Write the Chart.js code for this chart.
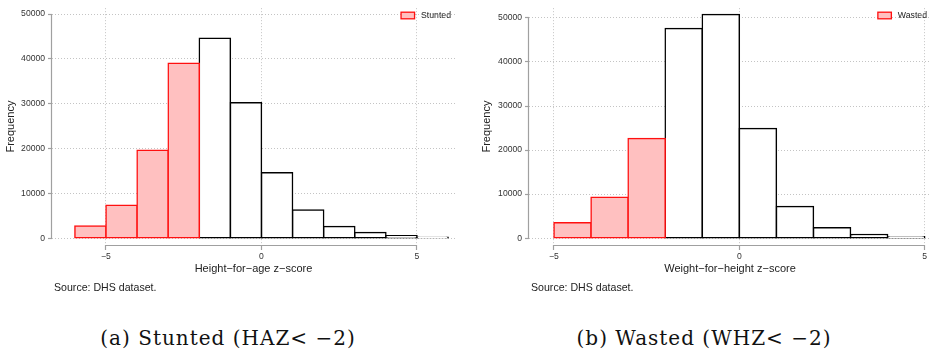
<!DOCTYPE html>
<html>
<head>
<meta charset="utf-8">
<script src="https://cdn.jsdelivr.net/npm/chart.js@4.4.0/dist/chart.umd.min.js"></script>
<style>
  body { margin: 0; background: #fff; width: 936px; height: 355px; overflow: hidden; position: relative; }
  canvas { position: absolute; top: 0; }
  .cap { position: absolute; top: 326px; font-family: "DejaVu Serif", serif; font-size: 20px;
         letter-spacing: 1px; color: #111; white-space: nowrap; transform: translateX(-50%); }
</style>
</head>
<body>
<canvas id="haz" width="466" height="300" style="left:0"></canvas>
<canvas id="whz" width="470" height="300" style="left:466px"></canvas>
<div class="cap" style="left:228px">(a) Stunted (HAZ&lt; −2)</div>
<div class="cap" style="left:704px">(b) Wasted (WHZ&lt; −2)</div>
<script>
// bin left edges (width 1) and frequencies
const hazBins = [-6, -5, -4, -3, -2, -1, 0, 1, 2, 3, 4, 5];
const hazCounts = [2700, 7350, 19600, 39000, 44600, 30200, 14600, 6260, 2620, 1240, 510, 220];
const whzBins = [-5, -4, -3, -2, -1, 0, 1, 2, 3, 4];
const whzCounts = [3480, 9260, 22600, 47600, 50800, 24900, 7190, 2370, 810, 300];
const cutoff = -2;
const xTicks = [-5, 0, 5];
const yTicks = [0, 10000, 20000, 30000, 40000, 50000];

const FONT = '"Liberation Sans", Arial, sans-serif';

// gray axis lines that only span the labelled range, like Stata
const axisLines = {
  id: 'axisLines',
  afterDatasetsDraw(chart) {
    const {ctx, chartArea, scales: {x, y}} = chart;
    ctx.save();
    ctx.strokeStyle = '#a0a0a0';
    ctx.lineWidth = 1.2;
    ctx.beginPath();
    ctx.moveTo(x.getPixelForValue(xTicks[0]), chartArea.bottom + 0.5);
    ctx.lineTo(x.getPixelForValue(xTicks[xTicks.length - 1]), chartArea.bottom + 0.5);
    ctx.moveTo(chartArea.left - 0.5, y.getPixelForValue(yTicks[0]));
    ctx.lineTo(chartArea.left - 0.5, y.getPixelForValue(yTicks[yTicks.length - 1]));
    ctx.stroke();
    ctx.restore();
  }
};

// legend inside the plot, top right, only the highlighted series
const innerLegend = {
  id: 'innerLegend',
  afterDraw(chart) {
    const {ctx, chartArea} = chart;
    const ds = chart.data.datasets[0];
    ctx.save();
    ctx.font = '8.7px ' + FONT;
    const tw = ctx.measureText(ds.label).width;
    const tx = chartArea.right - 4 - tw;
    const cy = 15.5;
    ctx.fillStyle = ds.backgroundColor;
    ctx.strokeStyle = ds.borderColor;
    ctx.lineWidth = 1.3;
    ctx.fillRect(tx - 20, cy - 3.3, 13.5, 6.6);
    ctx.strokeRect(tx - 20, cy - 3.3, 13.5, 6.6);
    ctx.fillStyle = '#222';
    ctx.textBaseline = 'middle';
    ctx.fillText(ds.label, tx, cy);
    ctx.restore();
  }
};

const sourceNote = {
  id: 'sourceNote',
  afterDraw(chart, args, opts) {
    const {ctx, chartArea} = chart;
    ctx.save();
    ctx.font = '10.6px ' + FONT;
    ctx.fillStyle = '#222';
    ctx.textBaseline = 'middle';
    ctx.fillText(opts.text, chartArea.left + 2, 288);
    ctx.restore();
  }
};

function makeHist(id, bins, counts, label, xTitle, g) {
  const low = [], high = [];
  bins.forEach((b, i) => {
    (b < cutoff ? low : high).push({x: b + 0.5, y: counts[i]});
  });
  const tickFont = {family: FONT, size: 8.6};
  return new Chart(document.getElementById(id), {
    type: 'bar',
    data: {
      datasets: [{
        label: label,
        data: low,
        backgroundColor: '#ffc0c0',
        borderColor: '#ff1010'
      }, {
        label: 'other',
        data: high,
        backgroundColor: '#ffffff',
        borderColor: '#000000'
      }]
    },
    options: {
      responsive: false,
      animation: false,
      layout: {padding: {left: 0, right: g.padRight, top: 3, bottom: 0}},
      datasets: {bar: {
        barPercentage: 1, categoryPercentage: 1, grouped: false,
        borderWidth: 1.5, borderSkipped: false, inflateAmount: 0.75
      }},
      plugins: {
        legend: {display: false},
        tooltip: {enabled: false},
        sourceNote: {text: 'Source: DHS dataset.'}
      },
      scales: {
        x: {
          type: 'linear',
          min: g.xMin,
          max: g.xMax,
          offset: false,
          afterBuildTicks: s => { s.ticks = xTicks.map(v => ({value: v})); },
          afterFit: s => { s.height = 55; },
          border: {display: false, dash: [1, 2]},
          grid: {
            offset: false,
            color: '#c4c4c4',
            tickColor: '#a0a0a0',
            tickBorderDash: [],
            tickLength: 5,
            tickWidth: 1.2
          },
          ticks: {
            font: tickFont,
            color: '#333',
            padding: 1,
            maxRotation: 0,
            callback: v => v < 0 ? '\u2212' + Math.abs(v) : String(v)
          },
          title: {
            display: true,
            text: xTitle,
            font: {family: FONT, size: 11},
            color: '#222',
            padding: {top: 0, bottom: 24.4}
          }
        },
        y: {
          min: g.yMin,
          max: g.yMax,
          afterBuildTicks: s => { s.ticks = yTicks.map(v => ({value: v})); },
          afterFit: s => { s.width = g.yWidth; },
          border: {display: false, dash: [1, 2]},
          grid: {
            color: '#c4c4c4',
            tickColor: '#a0a0a0',
            tickBorderDash: [],
            tickLength: 4,
            tickWidth: 1.2
          },
          ticks: {font: tickFont, color: '#333', padding: 3, callback: v => String(v)},
          title: {
            display: true,
            text: 'Frequency',
            font: {family: FONT, size: 11},
            color: '#222',
            padding: {top: g.yTitlePad, bottom: 0}
          }
        }
      }
    },
    plugins: [axisLines, innerLegend, sourceNote]
  });
}

makeHist('haz', hazBins, hazCounts, 'Stunted', 'Height\u2212for\u2212age z\u2212score', {
  xMin: -6.736, xMax: 6.222, yMin: -1528, yMax: 51310, yWidth: 52, padRight: 11, yTitlePad: 3.9
});
makeHist('whz', whzBins, whzCounts, 'Wasted', 'Weight\u2212for\u2212height z\u2212score', {
  xMin: -5.674, xMax: 5.17, yMin: -1556, yMax: 52222, yWidth: 63, padRight: 5, yTitlePad: 14.4
});
</script>
</body>
</html>
